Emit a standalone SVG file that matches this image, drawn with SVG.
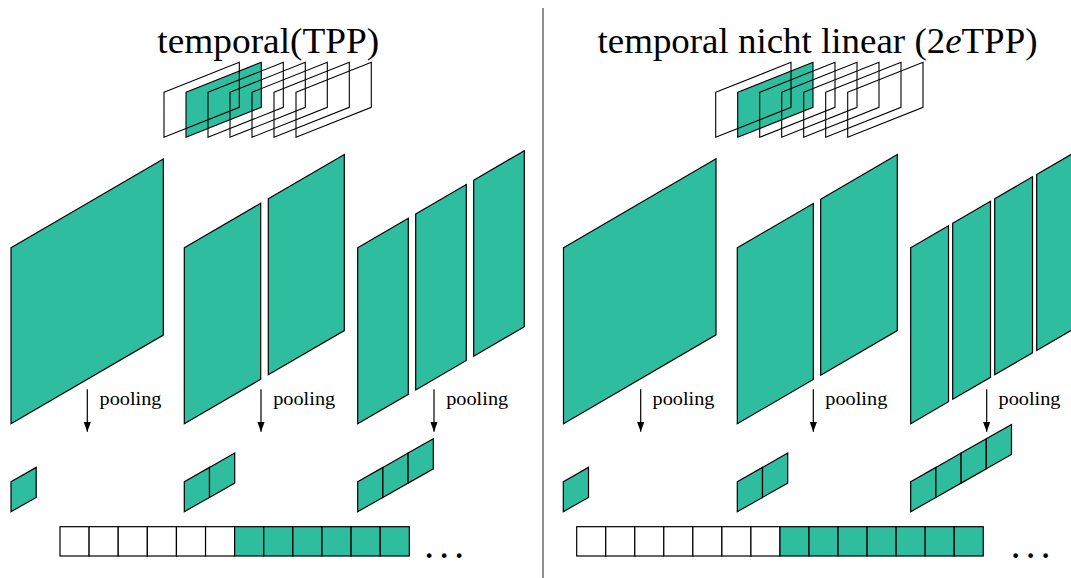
<svg xmlns="http://www.w3.org/2000/svg" width="1071" height="578" viewBox="0 0 1071 578">
<style>
.g{fill:#2fbd9f;stroke:#000;stroke-width:1.2;stroke-linejoin:miter}
.w{fill:#fff;stroke:#000;stroke-width:1.2}
.o{fill:none;stroke:#000;stroke-width:1.1}
.t{font-family:"Liberation Serif","Times New Roman",serif;fill:#000}
.title{font-size:36px}
.lbl{font-size:19px}
.dots{font-size:29px;letter-spacing:7.75px;font-weight:bold}
.arr{stroke:#000;stroke-width:1.2;fill:none}
</style>
<defs>
<marker id="ah" markerUnits="userSpaceOnUse" markerWidth="10" markerHeight="8" refX="10" refY="4" orient="auto">
<path d="M0,0.3 L10,4 L0,7.7 Z" fill="#000"/>
</marker>
</defs>
<rect width="1071" height="578" fill="#fff"/>
<line x1="543" y1="8" x2="543" y2="578" stroke="#555" stroke-width="1.3"/>

<g id="left-title"><text class="t title" x="268.3" y="53" text-anchor="middle" textLength="222" lengthAdjust="spacingAndGlyphs">temporal(TPP)</text></g>
<g id="right-title"><text class="t title" x="817.5" y="53" text-anchor="middle" textLength="440" lengthAdjust="spacingAndGlyphs">temporal nicht linear (2<tspan font-style="italic">e</tspan>TPP)</text></g>

<g id="left-frames">
<polygon class="g" style="stroke:none" points="186,92.3 261.3,62.3 261.3,107.3 186,137.3"/>
<polygon class="o" points="164,92.3 239.3,62.3 239.3,107.3 164,137.3"/>
<polygon class="o" points="186,92.3 261.3,62.3 261.3,107.3 186,137.3"/>
<polygon class="o" points="208,92.3 283.3,62.3 283.3,107.3 208,137.3"/>
<polygon class="o" points="230,92.3 305.3,62.3 305.3,107.3 230,137.3"/>
<polygon class="o" points="252,92.3 327.3,62.3 327.3,107.3 252,137.3"/>
<polygon class="o" points="274,92.3 349.3,62.3 349.3,107.3 274,137.3"/>
<polygon class="o" points="296,92.3 371.3,62.3 371.3,107.3 296,137.3"/>
</g>
<g id="right-frames">
<polygon class="g" style="stroke:none" points="737.7,92.3 813,62.3 813,107.3 737.7,137.3"/>
<polygon class="o" points="715.7,92.3 791,62.3 791,107.3 715.7,137.3"/>
<polygon class="o" points="737.7,92.3 813,62.3 813,107.3 737.7,137.3"/>
<polygon class="o" points="759.7,92.3 835,62.3 835,107.3 759.7,137.3"/>
<polygon class="o" points="781.7,92.3 857,62.3 857,107.3 781.7,137.3"/>
<polygon class="o" points="803.7,92.3 879,62.3 879,107.3 803.7,137.3"/>
<polygon class="o" points="825.7,92.3 901,62.3 901,107.3 825.7,137.3"/>
<polygon class="o" points="847.7,92.3 923,62.3 923,107.3 847.7,137.3"/>
</g>

<g id="left-level1">
<polygon class="g" points="11,247.7 163.3,159.1 163.3,335.1 11,423.7"/>
</g>
<g id="left-level2">
<polygon class="g" points="184.3,247.7 260.7,203.2 260.7,379.2 184.3,423.7"/>
<polygon class="g" points="268.3,198.8 344.3,154.6 344.3,330.6 268.3,374.8"/>
</g>
<g id="left-level3">
<polygon class="g" points="357.7,247.7 408.3,218.3 408.3,394.3 357.7,423.7"/>
<polygon class="g" points="415.7,213.9 466.3,184.5 466.3,360.5 415.7,389.9"/>
<polygon class="g" points="473.7,180.2 524.3,150.7 524.3,326.7 473.7,356.2"/>
</g>
<g id="right-level1">
<polygon class="g" points="563.5,247.7 716,158.8 716,334.8 563.5,423.7"/>
</g>
<g id="right-level2">
<polygon class="g" points="737.3,247.7 813.3,203.5 813.3,379.5 737.3,423.7"/>
<polygon class="g" points="820.7,199.2 897.3,154.6 897.3,330.6 820.7,375.2"/>
</g>
<g id="right-level3">
<polygon class="g" points="910.7,247.7 948.5,225.7 948.5,401.7 910.7,423.7"/>
<polygon class="g" points="952.7,223.3 990.5,201.3 990.5,377.3 952.7,399.3"/>
<polygon class="g" points="994.7,198.8 1032.5,176.8 1032.5,352.8 994.7,374.8"/>
<polygon class="g" points="1036.7,174.4 1074.5,152.4 1074.5,328.4 1036.7,350.4"/>
</g>

<g id="connectors">
<line class="arr" x1="87.3" y1="389.3" x2="87.3" y2="431.7" marker-end="url(#ah)"/>
<line class="arr" x1="261" y1="389.3" x2="261" y2="431.7" marker-end="url(#ah)"/>
<line class="arr" x1="434" y1="389.3" x2="434" y2="431.7" marker-end="url(#ah)"/>
<line class="arr" x1="640.7" y1="389.3" x2="640.7" y2="431.7" marker-end="url(#ah)"/>
<line class="arr" x1="813.3" y1="389.3" x2="813.3" y2="431.7" marker-end="url(#ah)"/>
<line class="arr" x1="986.7" y1="389.3" x2="986.7" y2="431.7" marker-end="url(#ah)"/>
</g>
<g id="pooling-labels">
<text class="t lbl" x="99.5" y="405" textLength="62" lengthAdjust="spacingAndGlyphs">pooling</text>
<text class="t lbl" x="273.2" y="405" textLength="62" lengthAdjust="spacingAndGlyphs">pooling</text>
<text class="t lbl" x="446.2" y="405" textLength="62" lengthAdjust="spacingAndGlyphs">pooling</text>
<text class="t lbl" x="652.5" y="405" textLength="62" lengthAdjust="spacingAndGlyphs">pooling</text>
<text class="t lbl" x="825.3" y="405" textLength="62" lengthAdjust="spacingAndGlyphs">pooling</text>
<text class="t lbl" x="998.5" y="405" textLength="62" lengthAdjust="spacingAndGlyphs">pooling</text>
</g>

<g id="left-pooled1">
<polygon class="g" points="11,481.7 36.2,467.4 36.2,497.4 11,511.7"/>
</g>
<g id="left-pooled2">
<polygon class="g" points="184.3,481.7 209.5,467.4 209.5,497.4 184.3,511.7"/>
<polygon class="g" points="209.5,467.4 234.7,453.1 234.7,483.1 209.5,497.4"/>
</g>
<g id="left-pooled3">
<polygon class="g" points="357.7,481.7 382.9,467.4 382.9,497.4 357.7,511.7"/>
<polygon class="g" points="382.9,467.4 408.1,453.1 408.1,483.1 382.9,497.4"/>
<polygon class="g" points="408.1,453.1 433.3,438.8 433.3,468.8 408.1,483.1"/>
</g>
<g id="right-pooled1">
<polygon class="g" points="563.3,481.7 588.5,467.4 588.5,497.4 563.3,511.7"/>
</g>
<g id="right-pooled2">
<polygon class="g" points="737.3,481.7 762.5,467.4 762.5,497.4 737.3,511.7"/>
<polygon class="g" points="762.5,467.4 787.7,453.1 787.7,483.1 762.5,497.4"/>
</g>
<g id="right-pooled3">
<polygon class="g" points="910.7,481.7 935.9,467.4 935.9,497.4 910.7,511.7"/>
<polygon class="g" points="935.9,467.4 961.1,453.1 961.1,483.1 935.9,497.4"/>
<polygon class="g" points="961.1,453.1 986.3,438.8 986.3,468.8 961.1,483.1"/>
<polygon class="g" points="986.3,438.8 1011.5,424.5 1011.5,454.5 986.3,468.8"/>
</g>

<g id="left-vector">
<rect class="w" x="60" y="526.7" width="29.11" height="29.3"/>
<rect class="w" x="89.11" y="526.7" width="29.11" height="29.3"/>
<rect class="w" x="118.22" y="526.7" width="29.11" height="29.3"/>
<rect class="w" x="147.33" y="526.7" width="29.11" height="29.3"/>
<rect class="w" x="176.44" y="526.7" width="29.11" height="29.3"/>
<rect class="w" x="205.55" y="526.7" width="29.11" height="29.3"/>
<rect class="g" x="234.66" y="526.7" width="29.11" height="29.3"/>
<rect class="g" x="263.77" y="526.7" width="29.11" height="29.3"/>
<rect class="g" x="292.88" y="526.7" width="29.11" height="29.3"/>
<rect class="g" x="321.99" y="526.7" width="29.11" height="29.3"/>
<rect class="g" x="351.1" y="526.7" width="29.11" height="29.3"/>
<rect class="g" x="380.21" y="526.7" width="29.11" height="29.3"/>
<text class="t dots" x="425.5" y="557.5">...</text>
</g>
<g id="right-vector">
<rect class="w" x="576.7" y="526.7" width="29.04" height="29.3"/>
<rect class="w" x="605.74" y="526.7" width="29.04" height="29.3"/>
<rect class="w" x="634.78" y="526.7" width="29.04" height="29.3"/>
<rect class="w" x="663.82" y="526.7" width="29.04" height="29.3"/>
<rect class="w" x="692.86" y="526.7" width="29.04" height="29.3"/>
<rect class="w" x="721.9" y="526.7" width="29.04" height="29.3"/>
<rect class="w" x="750.94" y="526.7" width="29.04" height="29.3"/>
<rect class="g" x="779.98" y="526.7" width="29.04" height="29.3"/>
<rect class="g" x="809.02" y="526.7" width="29.04" height="29.3"/>
<rect class="g" x="838.06" y="526.7" width="29.04" height="29.3"/>
<rect class="g" x="867.1" y="526.7" width="29.04" height="29.3"/>
<rect class="g" x="896.14" y="526.7" width="29.04" height="29.3"/>
<rect class="g" x="925.18" y="526.7" width="29.04" height="29.3"/>
<rect class="g" x="954.22" y="526.7" width="29.04" height="29.3"/>
<text class="t dots" x="1011.9" y="557.5">...</text>
</g>
</svg>
